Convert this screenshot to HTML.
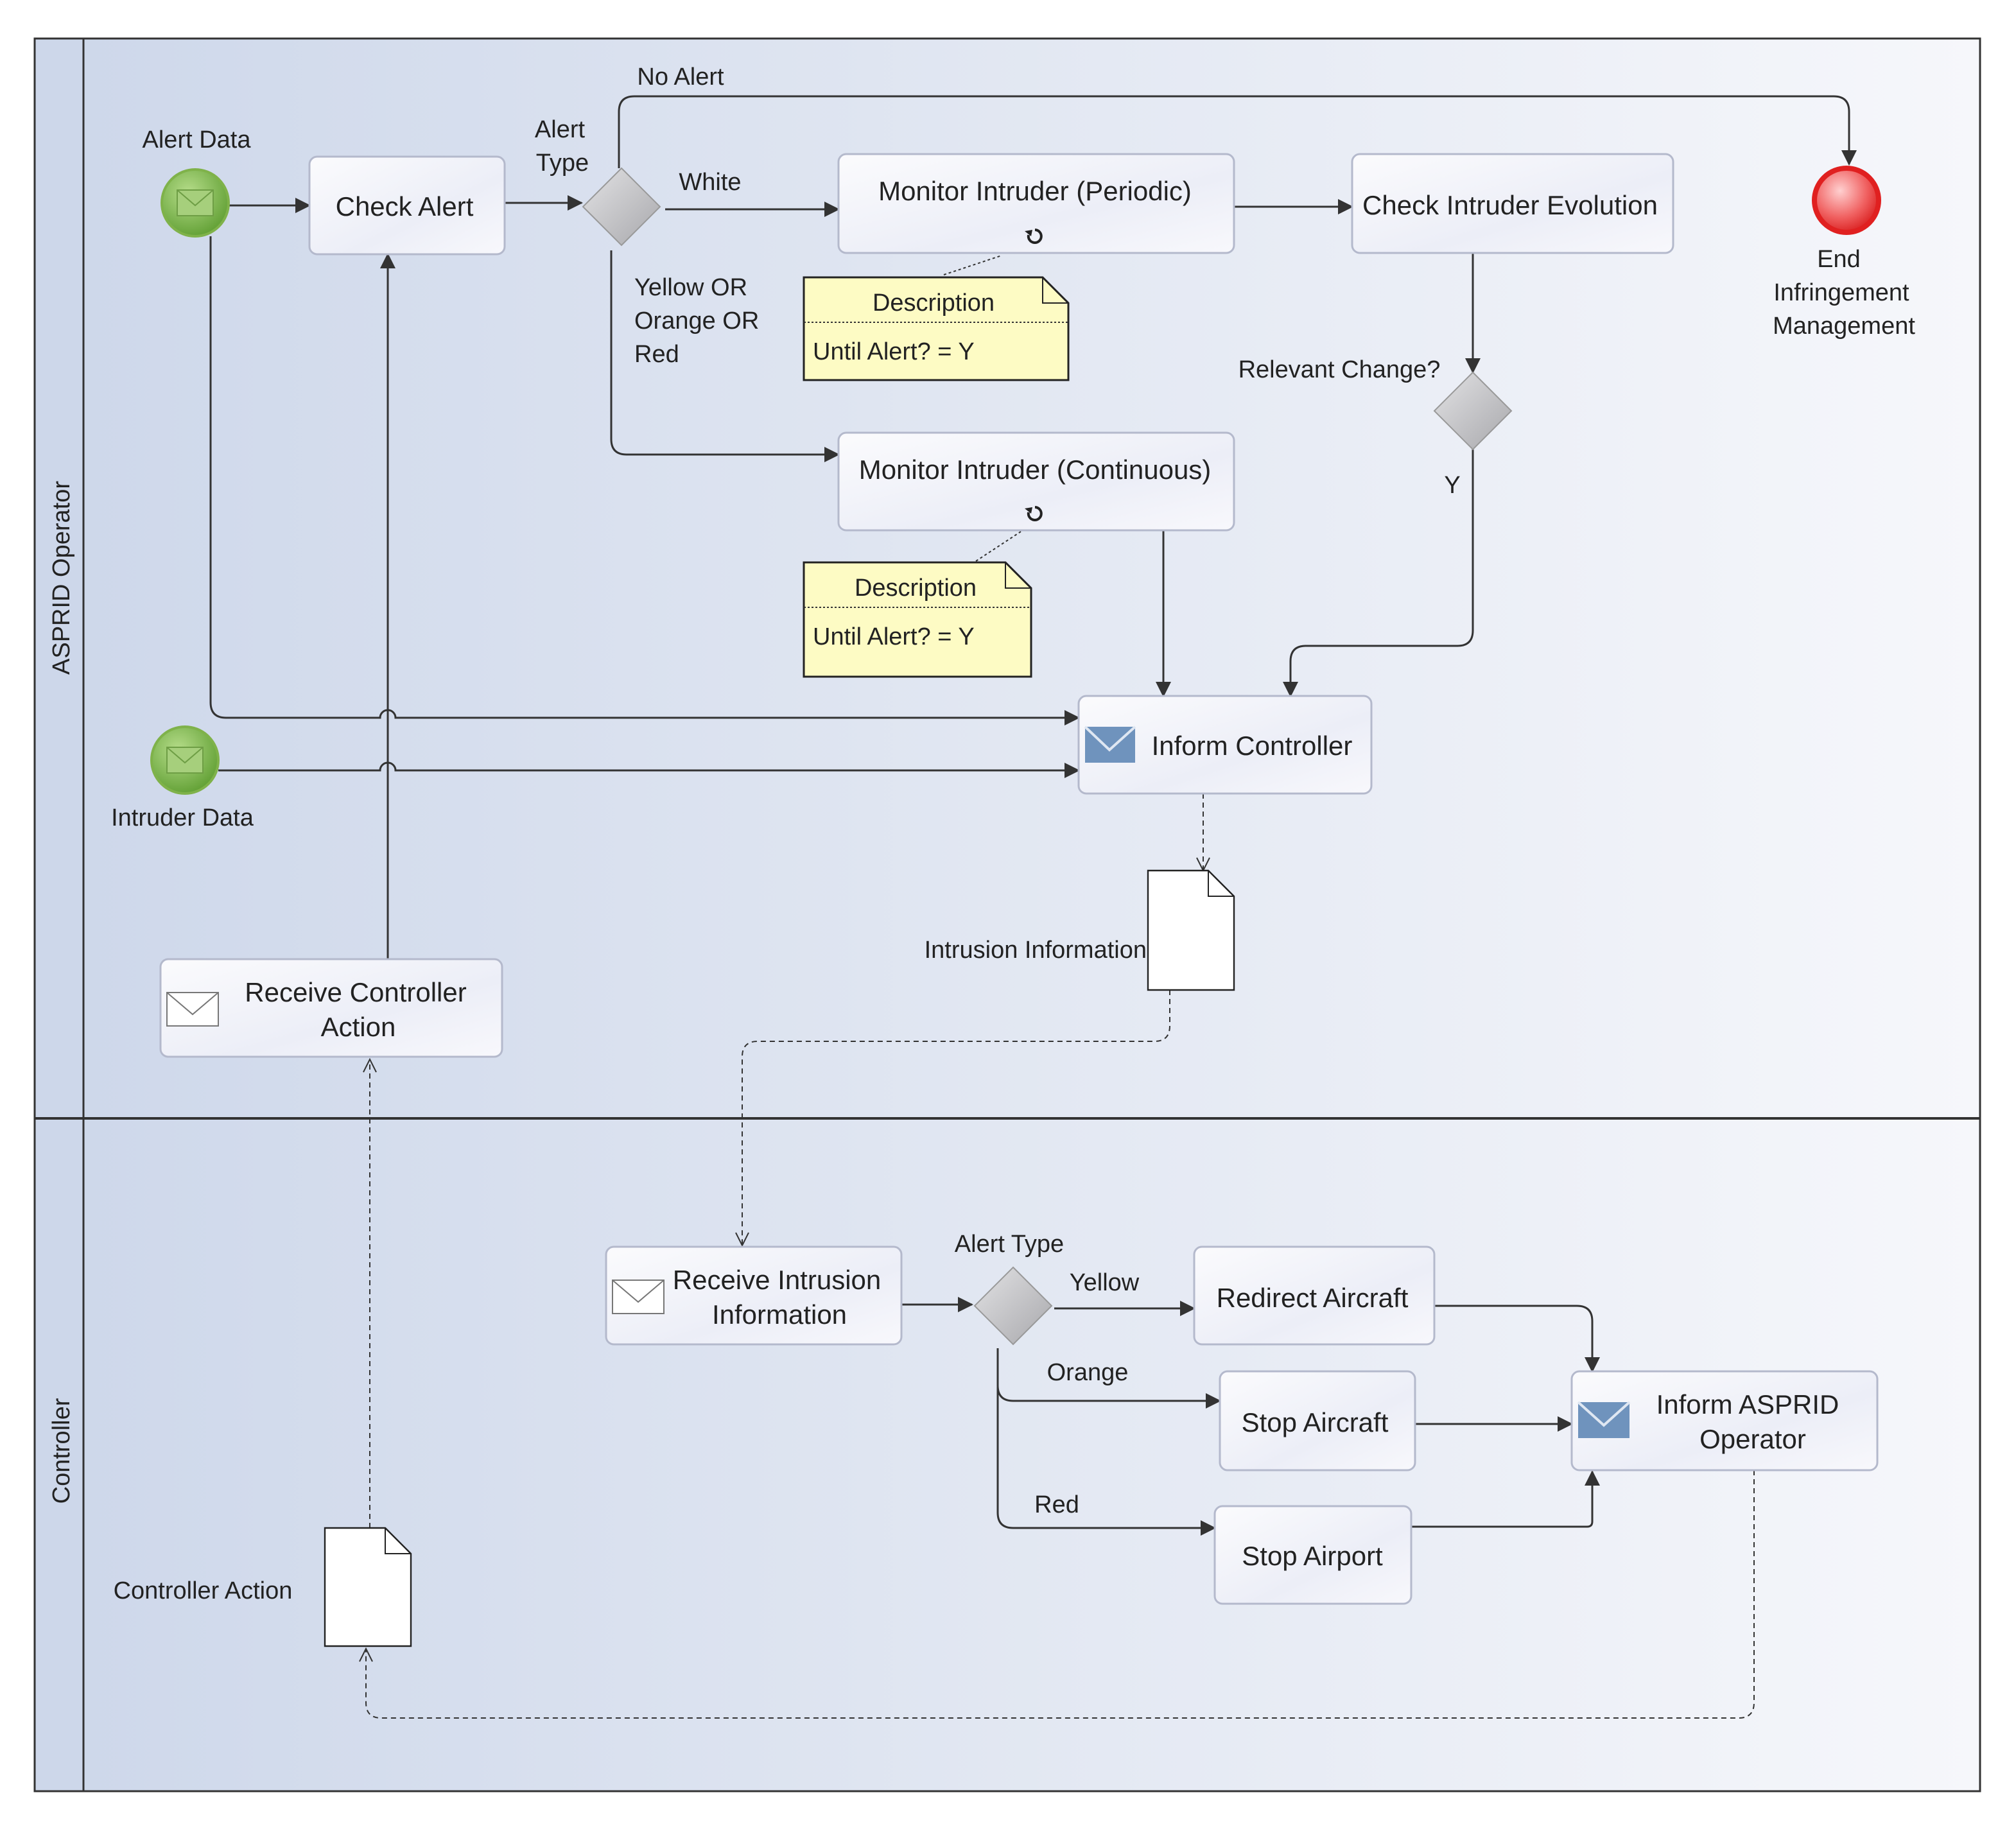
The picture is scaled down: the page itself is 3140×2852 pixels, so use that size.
<!DOCTYPE html>
<html><head><meta charset="utf-8"><style>
html,body{margin:0;padding:0;background:#fff}
svg{display:block}
text{font-family:"Liberation Sans",Arial,sans-serif;fill:#222}
</style></head><body>
<svg width="3140" height="2852" viewBox="0 0 1570 1426" xmlns="http://www.w3.org/2000/svg">
<defs>
<linearGradient id="bg" x1="0" y1="0" x2="1" y2="0"><stop offset="0" stop-color="#cdd7ea"/><stop offset="0.55" stop-color="#e4e9f3"/><stop offset="1" stop-color="#f6f7fb"/></linearGradient>
<linearGradient id="task" x1="0" y1="0" x2="1" y2="1"><stop offset="0" stop-color="#fbfbfd"/><stop offset="0.6" stop-color="#eceef7"/><stop offset="1" stop-color="#f8f8fc"/></linearGradient>
<linearGradient id="gw" x1="0" y1="0" x2="1" y2="1"><stop offset="0" stop-color="#e2e2e4"/><stop offset="1" stop-color="#a8a8ac"/></linearGradient>
<radialGradient id="green" cx="0.4" cy="0.35" r="0.7"><stop offset="0" stop-color="#b6dd8a"/><stop offset="1" stop-color="#5f9e32"/></radialGradient>
<radialGradient id="red" cx="0.4" cy="0.35" r="0.7"><stop offset="0" stop-color="#ffd0d0"/><stop offset="0.6" stop-color="#f06060"/><stop offset="1" stop-color="#d81c1c"/></radialGradient>
<marker id="a" markerWidth="12" markerHeight="12" refX="11" refY="6" orient="auto" markerUnits="userSpaceOnUse"><path d="M0,0 L12,6 L0,12 Z" fill="#333"/></marker>
<marker id="o" markerWidth="12" markerHeight="12" refX="11" refY="6" orient="auto" markerUnits="userSpaceOnUse"><path d="M1,1 L11,6 L1,11" fill="none" stroke="#333" stroke-width="1"/></marker>
</defs>
<rect x="27" y="30" width="1515" height="1365" fill="url(#bg)" stroke="#333" stroke-width="1.5"/>
<rect x="27" y="30" width="38" height="1365" fill="#cdd7ea" stroke="#333" stroke-width="1.5"/>
<line x1="27" y1="871" x2="1542" y2="871" stroke="#333" stroke-width="2"/>
<text transform="translate(54,450) rotate(-90)" text-anchor="middle" font-size="19">ASPRID Operator</text>
<text transform="translate(54,1130) rotate(-90)" text-anchor="middle" font-size="19">Controller</text>

<g fill="none" stroke="#333" stroke-width="1.5">
<path d="M178,160 H241" marker-end="url(#a)"/>
<path d="M393,158 H453" marker-end="url(#a)"/>
<path d="M482,131 V87 Q482,75 494,75 H1428 Q1440,75 1440,87 V128" marker-end="url(#a)"/>
<path d="M518,163 H653" marker-end="url(#a)"/>
<path d="M961,161 H1053" marker-end="url(#a)"/>
<path d="M1147,197 V290" marker-end="url(#a)"/>
<path d="M1147,350 V491 Q1147,503 1135,503 H1017 Q1005,503 1005,515 V542" marker-end="url(#a)"/>
<path d="M476,195 V342 Q476,354 488,354 H653" marker-end="url(#a)"/>
<path d="M906,413 V542" marker-end="url(#a)"/>
<path d="M164,184 V547 Q164,559 176,559 H296 A6,6 0 0 1 308,559 H840" marker-end="url(#a)"/>
<path d="M170,600 H296 A6,6 0 0 1 308,600 H840" marker-end="url(#a)"/>
<path d="M302,747 V198" marker-end="url(#a)"/>
<path d="M702,1016 H757" marker-end="url(#a)"/>
<path d="M821,1019 H930" marker-end="url(#a)"/>
<path d="M1117,1017 H1228 Q1240,1017 1240,1029 V1068" marker-end="url(#a)"/>
<path d="M777,1050 V1079 Q777,1091 789,1091 H950" marker-end="url(#a)"/>
<path d="M777,1080 V1178 Q777,1190 789,1190 H946" marker-end="url(#a)"/>
<path d="M1102,1109 H1224" marker-end="url(#a)"/>
<path d="M1099,1189 H1236 Q1240,1189 1240,1185 V1146" marker-end="url(#a)"/>
</g>
<g fill="none" stroke="#333" stroke-width="1" stroke-dasharray="4,3">
<path d="M937,618 V678" marker-end="url(#o)"/>
<path d="M911,771 V799 Q911,811 899,811 H590 Q578,811 578,823 V970" marker-end="url(#o)"/>
<path d="M288,1190 V825" marker-end="url(#o)"/>
<path d="M1366,1145 V1326 Q1366,1338 1354,1338 H297 Q285,1338 285,1326 V1284" marker-end="url(#o)"/>
<path d="M735,214 L780,199" stroke-dasharray="2,2"/>
<path d="M760,437 L795,414" stroke-dasharray="2,2"/>
</g>

<!-- events -->
<circle cx="152" cy="158" r="26" fill="url(#green)" stroke="#7fb24a" stroke-width="2"/>
<rect x="138" y="148" width="28" height="20" fill="#a6cf7c" stroke="#6e9e45"/><path d="M138,148 L152,160 L166,148" fill="none" stroke="#6e9e45"/>
<circle cx="144" cy="592" r="26" fill="url(#green)" stroke="#7fb24a" stroke-width="2"/>
<rect x="130" y="582" width="28" height="20" fill="#a6cf7c" stroke="#6e9e45"/><path d="M130,582 L144,594 L158,582" fill="none" stroke="#6e9e45"/>
<circle cx="1438" cy="156" r="25" fill="url(#red)" stroke="#e02020" stroke-width="4"/>
<text x="153" y="115" text-anchor="middle" font-size="19">Alert Data</text>
<text x="142" y="643" text-anchor="middle" font-size="19">Intruder Data</text>
<text x="1432" y="208" text-anchor="middle" font-size="19">End</text>
<text x="1434" y="234" text-anchor="middle" font-size="19">Infringement</text>
<text x="1436" y="260" text-anchor="middle" font-size="19">Management</text>

<!-- gateways -->
<path d="M484,131 L514,161 L484,191 L454,161 Z" fill="url(#gw)" stroke="#999"/>
<path d="M1147,290 L1177,320 L1147,350 L1117,320 Z" fill="url(#gw)" stroke="#999"/>
<path d="M789,987 L819,1017 L789,1047 L759,1017 Z" fill="url(#gw)" stroke="#999"/>

<!-- tasks -->
<g fill="url(#task)" stroke="#b4b9cc" stroke-width="1.5">
<rect x="241" y="122" width="152" height="76" rx="6"/>
<rect x="653" y="120" width="308" height="77" rx="6"/>
<rect x="1053" y="120" width="250" height="77" rx="6"/>
<rect x="653" y="337" width="308" height="76" rx="6"/>
<rect x="840" y="542" width="228" height="76" rx="6"/>
<rect x="125" y="747" width="266" height="76" rx="6"/>
<rect x="472" y="971" width="230" height="76" rx="6"/>
<rect x="930" y="971" width="187" height="76" rx="6"/>
<rect x="950" y="1068" width="152" height="77" rx="6"/>
<rect x="946" y="1173" width="153" height="76" rx="6"/>
<rect x="1224" y="1068" width="238" height="77" rx="6"/>
</g>
<!-- envelopes -->
<rect x="845" y="566" width="39" height="28" fill="#6f93bd"/><path d="M845,566 L864,584 L884,566" fill="none" stroke="#dfe7f2" stroke-width="2"/>
<rect x="1229" y="1092" width="40" height="28" fill="#6f93bd"/><path d="M1229,1092 L1249,1110 L1269,1092" fill="none" stroke="#dfe7f2" stroke-width="2"/>
<rect x="130" y="773" width="40" height="26" fill="#fff" stroke="#777"/><path d="M130,773 L150,790 L170,773" fill="none" stroke="#777"/>
<rect x="477" y="997" width="40" height="26" fill="#fff" stroke="#777"/><path d="M477,997 L497,1014 L517,997" fill="none" stroke="#777"/>
<!-- loop icons -->
<path d="M801,183 A5,5 0 1 0 806,179" fill="none" stroke="#222" stroke-width="2"/><path d="M798,180 L803,184 L804,179Z" fill="#222"/>
<path d="M801,399 A5,5 0 1 0 806,395" fill="none" stroke="#222" stroke-width="2"/><path d="M798,396 L803,400 L804,395Z" fill="#222"/>

<g font-size="21" text-anchor="middle">
<text x="315" y="168">Check Alert</text>
<text x="806" y="156">Monitor Intruder (Periodic)</text>
<text x="1176" y="167">Check Intruder Evolution</text>
<text x="806" y="373">Monitor Intruder (Continuous)</text>
<text x="975" y="588">Inform Controller</text>
<text x="277" y="780">Receive Controller</text>
<text x="279" y="807">Action</text>
<text x="605" y="1004">Receive Intrusion</text>
<text x="607" y="1031">Information</text>
<text x="1022" y="1018">Redirect Aircraft</text>
<text x="1024" y="1115">Stop Aircraft</text>
<text x="1022" y="1219">Stop Airport</text>
<text x="1361" y="1101">Inform ASPRID</text>
<text x="1365" y="1128">Operator</text>
</g>

<!-- notes -->
<path d="M626,216 H812 L832,236 V296 H626 Z" fill="#fdfbc4" stroke="#222" stroke-width="1.5"/>
<path d="M812,216 V236 H832" fill="none" stroke="#222"/>
<line x1="626" y1="251" x2="832" y2="251" stroke="#333" stroke-dasharray="1.5,1.5"/>
<text x="727" y="242" text-anchor="middle" font-size="19">Description</text>
<text x="633" y="280" font-size="19">Until Alert? = Y</text>
<path d="M626,438 H783 L803,458 V527 H626 Z" fill="#fdfbc4" stroke="#222" stroke-width="1.5"/>
<path d="M783,438 V458 H803" fill="none" stroke="#222"/>
<line x1="626" y1="473" x2="803" y2="473" stroke="#333" stroke-dasharray="1.5,1.5"/>
<text x="713" y="464" text-anchor="middle" font-size="19">Description</text>
<text x="633" y="502" font-size="19">Until Alert? = Y</text>

<!-- documents -->
<path d="M894,678 H941 L961,698 V771 H894 Z" fill="#fff" stroke="#222" stroke-width="1.2"/>
<path d="M941,678 V698 H961" fill="none" stroke="#222"/>
<path d="M253,1190 H300 L320,1210 V1282 H253 Z" fill="#fff" stroke="#222" stroke-width="1.2"/>
<path d="M300,1190 V1210 H320" fill="none" stroke="#222"/>

<g font-size="19">
<text x="530" y="66" text-anchor="middle">No Alert</text>
<text x="436" y="107" text-anchor="middle">Alert</text>
<text x="438" y="133" text-anchor="middle">Type</text>
<text x="553" y="148" text-anchor="middle">White</text>
<text x="494" y="230">Yellow OR</text>
<text x="494" y="256">Orange OR</text>
<text x="494" y="282">Red</text>
<text x="1043" y="294" text-anchor="middle">Relevant Change?</text>
<text x="1131" y="384" text-anchor="middle">Y</text>
<text x="893" y="746" text-anchor="end">Intrusion Information</text>
<text x="158" y="1245" text-anchor="middle">Controller Action</text>
<text x="786" y="975" text-anchor="middle">Alert Type</text>
<text x="860" y="1005" text-anchor="middle">Yellow</text>
<text x="847" y="1075" text-anchor="middle">Orange</text>
<text x="823" y="1178" text-anchor="middle">Red</text>
</g>
</svg>
</body></html>
